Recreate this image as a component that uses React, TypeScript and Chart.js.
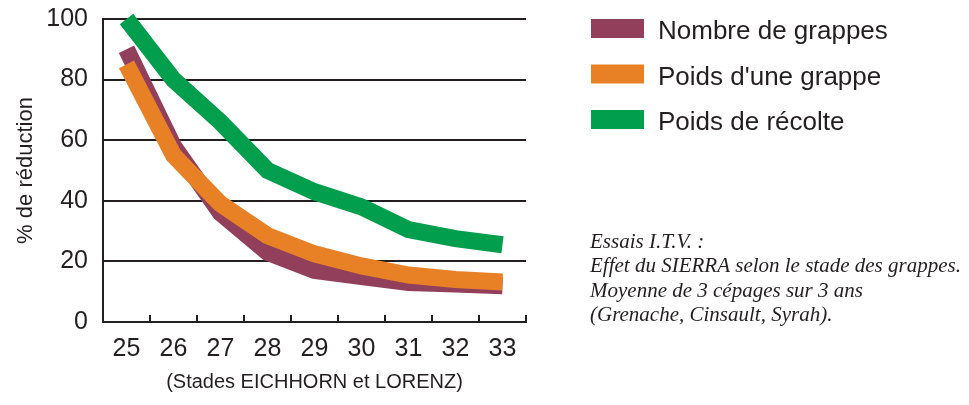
import React, { useEffect, useRef } from "react";
import { Chart, registerables } from "chart.js";

Chart.register(...registerables);

const STADES = ["25", "26", "27", "28", "29", "30", "31", "32", "33"];
const NOMBRE_GRAPPES = [90, 58, 36, 23, 17, 15, 13, 12.5, 12];
const POIDS_GRAPPE = [85, 55, 39, 28.5, 22.5, 18.5, 15.5, 14, 13.2];
const POIDS_RECOLTE = [100, 80, 66, 50, 43, 38, 30.5, 27.5, 25.5];
const Y_TICKS = [0, 20, 40, 60, 80, 100];
const SERIES_LABELS = ["Nombre de grappes", "Poids d'une grappe", "Poids de récolte"];
const SERIES_COLORS = ["#923F5B", "#E88126", "#009E4D"];
const Y_TITLE = "% de réduction";
const X_TITLE = "(Stades EICHHORN et LORENZ)";
const NOTE_LINES = [
  "Essais I.T.V. :",
  "Effet du SIERRA selon le stade des grappes.",
  "Moyenne de 3 cépages sur 3 ans",
  "(Grenache, Cinsault, Syrah).",
];

const INK = "#231F20";
const SANS = "'Liberation Sans', Arial, Helvetica, sans-serif";
const SERIF = "'Liberation Serif', 'Times New Roman', serif";

const overlayPlugin = {
  id: "overlay",
  afterDraw(chart: any) {
    const ctx = chart.ctx;
    const xs = chart.scales.x;
    const area = chart.chartArea;
    ctx.save();
    // upward tick marks at category boundaries
    ctx.strokeStyle = INK;
    ctx.lineWidth = 2;
    for (let i = 1; i <= STADES.length; i++) {
      const x = Math.round(xs.getPixelForValue(i - 0.5));
      ctx.beginPath();
      ctx.moveTo(x, area.bottom);
      ctx.lineTo(x, area.bottom - 7);
      ctx.stroke();
    }
    // legend
    const ds = chart.data.datasets;
    ctx.font = `26px ${SANS}`;
    ctx.textBaseline = "alphabetic";
    ctx.textAlign = "left";
    for (let i = 0; i < ds.length; i++) {
      const top = 19 + i * 45.5;
      ctx.fillStyle = ds[i].borderColor;
      ctx.fillRect(591, top, 53, 19);
      ctx.fillStyle = INK;
      ctx.fillText(ds[i].label, 658, top + 20);
    }
    // note
    ctx.font = `italic 21px ${SERIF}`;
    ctx.fillStyle = INK;
    for (let i = 0; i < NOTE_LINES.length; i++) {
      ctx.fillText(NOTE_LINES[i], 590, 248 + i * 24.3);
    }
    ctx.restore();
  },
};

export default function App() {
  const ref = useRef<HTMLCanvasElement | null>(null);

  useEffect(() => {
    document.body.style.margin = "0";
    if (!ref.current) return;
    const mk = (i: number, data: number[], order: number) => ({
      label: SERIES_LABELS[i],
      data,
      borderColor: SERIES_COLORS[i],
      backgroundColor: SERIES_COLORS[i],
      borderWidth: 17,
      borderCapStyle: "butt" as const,
      borderJoinStyle: "miter" as const,
      pointRadius: 0,
      tension: 0,
      clip: false as const,
      order,
    });
    const chart = new Chart(ref.current, {
      type: "line",
      data: {
        labels: STADES,
        datasets: [
          mk(0, NOMBRE_GRAPPES, 3),
          mk(1, POIDS_GRAPPE, 2),
          mk(2, POIDS_RECOLTE, 1),
        ],
      },
      options: {
        responsive: false,
        animation: false,
        events: [],
        layout: { padding: { left: 0, top: 19, right: 443, bottom: 0 } },
        plugins: { legend: { display: false }, tooltip: { enabled: false } },
        scales: {
          x: {
            type: "category",
            offset: true,
            grid: { display: true, drawOnChartArea: false, drawTicks: false },
            border: { display: true, color: INK, width: 2 },
            ticks: { color: INK, font: { family: SANS, size: 25 }, padding: 12, maxRotation: 0 },
            title: {
              display: true,
              text: X_TITLE,
              color: INK,
              font: { family: SANS, size: 20 },
              padding: { top: 0, bottom: 11 },
            },
            afterFit: (s: any) => {
              s.height = 83;
              s.paddingLeft = 0;
              s.paddingRight = 0;
            },
          },
          y: {
            min: 0,
            max: 100,
            afterBuildTicks: (s: any) => {
              s.ticks = Y_TICKS.map((v) => ({ value: v }));
            },
            grid: { color: INK, lineWidth: 2, drawTicks: false },
            border: { display: true, color: INK, width: 2 },
            ticks: { color: INK, font: { family: SANS, size: 25 }, padding: 15 },
            title: {
              display: true,
              text: Y_TITLE,
              color: INK,
              font: { family: SANS, size: 22 },
              padding: { top: 13, bottom: 0 },
            },
            afterFit: (s: any) => {
              s.width = 103;
              s.paddingTop = 0;
              s.paddingBottom = 0;
            },
          },
        },
      },
      plugins: [overlayPlugin],
    });
    return () => chart.destroy();
  }, []);

  return (
    <div style={{ width: 969, height: 405 }}>
      <canvas ref={ref} width={969} height={405} style={{ display: "block" }} />
    </div>
  );
}
